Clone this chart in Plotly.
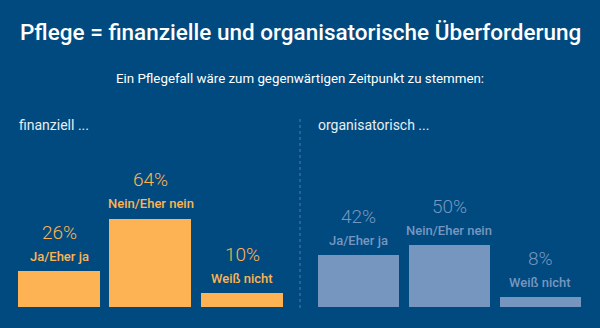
import plotly.graph_objects as go

# Survey data
categories = ["Ja/Eher ja", "Nein/Eher nein", "Weiß nicht"]
finanziell = [26, 64, 10]
organisatorisch = [42, 50, 8]

title = "Pflege = finanzielle und organisatorische Überforderung"
subtitle = "Ein Pflegefall wäre zum gegenwärtigen Zeitpunkt zu stemmen:"
panel_titles = ["finanziell ...", "organisatorisch ..."]

BG = "#004a7f"
ORANGE = "#fdb353"
LIGHTBLUE = "#7796bf"
FONT = "Roboto"

W, H = 600, 328


def px_x(p):
    return p / W


def px_y(p):
    return (H - p) / H


fig = go.Figure()

fig.add_trace(go.Bar(x=categories, y=finanziell, marker=dict(color=ORANGE, line=dict(width=0)),
                     width=0.9, xaxis="x", yaxis="y", hoverinfo="skip"))
fig.add_trace(go.Bar(x=categories, y=organisatorisch, marker=dict(color=LIGHTBLUE, line=dict(width=0)),
                     width=0.9, xaxis="x2", yaxis="y2", hoverinfo="skip"))

annotations = []
for xa, ya, vals, col in (("x", "y", finanziell, ORANGE), ("x2", "y2", organisatorisch, LIGHTBLUE)):
    for cat, v in zip(categories, vals):
        annotations.append(dict(x=cat, y=v, xref=xa, yref=ya, text=f"{v}%", showarrow=False,
                                yanchor="middle", yshift=39,
                                font=dict(family=FONT, size=19, color=col, weight=300)))
        annotations.append(dict(x=cat, y=v, xref=xa, yref=ya, text=cat, showarrow=False,
                                yanchor="middle", yshift=15,
                                font=dict(family=FONT, size=13, color=col, weight=500)))

annotations += [
    dict(x=0.5, y=px_y(32), xref="paper", yref="paper", text=title, showarrow=False,
         xanchor="center", yanchor="middle",
         font=dict(family=FONT, size=22.5, color="white", weight=500)),
    dict(x=0.5, y=px_y(78), xref="paper", yref="paper", text=subtitle, showarrow=False,
         xanchor="center", yanchor="middle",
         font=dict(family=FONT, size=13.3, color="white")),
    dict(x=px_x(17), y=px_y(125), xref="paper", yref="paper", text=panel_titles[0], showarrow=False,
         xanchor="left", yanchor="middle",
         font=dict(family=FONT, size=14, color="#e8eef5")),
    dict(x=px_x(316), y=px_y(125), xref="paper", yref="paper", text=panel_titles[1], showarrow=False,
         xanchor="left", yanchor="middle",
         font=dict(family=FONT, size=14, color="#e8eef5")),
]

axis_common = dict(showgrid=False, zeroline=False, showticklabels=False, ticks="", showline=False,
                   fixedrange=True)

fig.update_layout(
    width=W, height=H,
    margin=dict(l=0, r=0, t=0, b=0),
    paper_bgcolor=BG, plot_bgcolor=BG,
    showlegend=False,
    bargap=0,
    xaxis=dict(domain=[px_x(13.25), px_x(287.75)], range=[-0.5, 2.5], **axis_common),
    yaxis=dict(domain=[px_y(307), px_y(117)], range=[0, 137.5], anchor="x", **axis_common),
    xaxis2=dict(domain=[px_x(312.5), px_x(585.5)], range=[-0.5, 2.5], anchor="y2", **axis_common),
    yaxis2=dict(domain=[px_y(307), px_y(117)], range=[0, 153.5], anchor="x2", **axis_common),
    annotations=annotations,
    shapes=[dict(type="line", xref="paper", yref="paper", x0=0.5, x1=0.5,
                 y0=px_y(308), y1=px_y(117),
                 line=dict(color="#4f7fae", width=1, dash="dot"))],
)

fig.write_html("out.html")
